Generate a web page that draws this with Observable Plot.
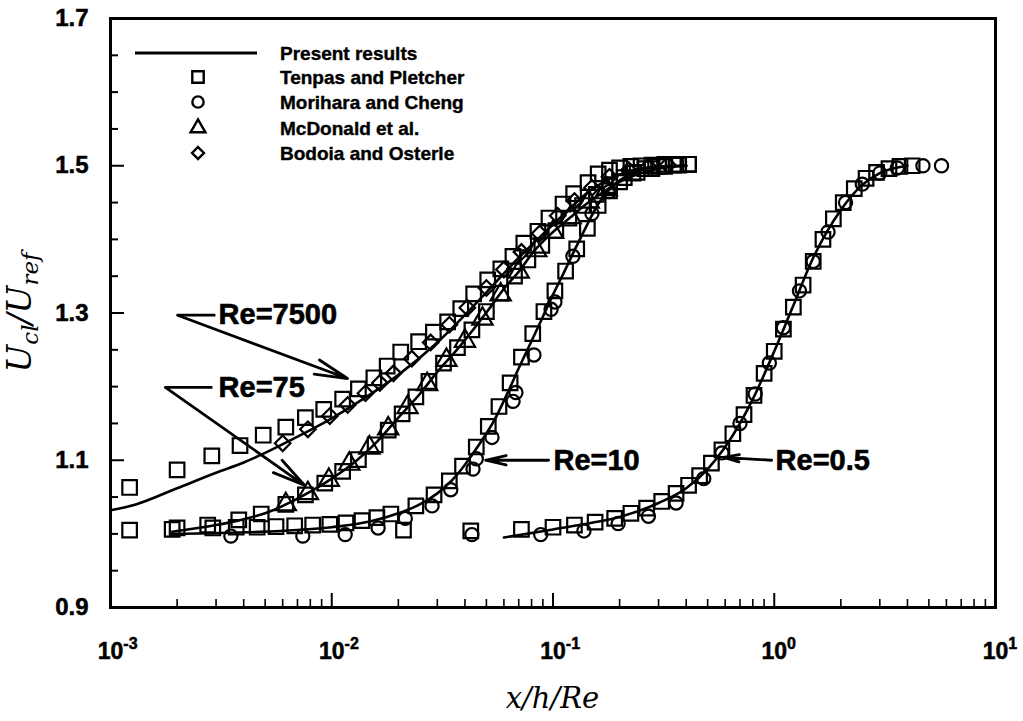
<!DOCTYPE html>
<html>
<head>
<meta charset="utf-8">
<script src="https://cdn.jsdelivr.net/npm/d3@7"></script>
<script src="https://cdn.jsdelivr.net/npm/@observablehq/plot@0.6"></script>
<style>
  body { margin: 0; background: #fff; }
  #chart { width: 1023px; height: 721px; }
</style>
</head>
<body>
<div id="chart"></div>
<script>
// ---------- axis ticks ----------
const xTickValues = [0.001, 0.01, 0.1, 1, 10];
const xTickExponents = ["-3", "-2", "-1", "0", "1"];
const xMinorTicks = [0.002,0.003,0.004,0.005,0.006,0.007,0.008,0.009,
                     0.02,0.03,0.04,0.05,0.06,0.07,0.08,0.09,
                     0.2,0.3,0.4,0.5,0.6,0.7,0.8,0.9,
                     2,3,4,5,6,7,8,9];
const yTickValues = [0.9, 1.1, 1.3, 1.5, 1.7];
const yMajorInner = [1.1, 1.3, 1.5];
const yMinorTicks = [0.95,1.0,1.05,1.15,1.2,1.25,1.35,1.4,1.45,1.55,1.6,1.65];

// ---------- present results (lines) ----------
const curve7500X = [0.001,0.0013,0.002,0.003,0.004,0.005,0.007,0.01,0.014,0.02,0.03,0.05,0.07,0.1,0.15,0.2,0.3,0.4];
const curve7500Y = [1.032,1.040,1.062,1.083,1.097,1.110,1.132,1.157,1.184,1.216,1.260,1.328,1.375,1.420,1.468,1.488,1.499,1.500];
const curve75X = [0.0019,0.003,0.004,0.005,0.007,0.01,0.013,0.016,0.02,0.025,0.03,0.037,0.044,0.051,0.06,0.07,0.082,0.1,0.12,0.14,0.17,0.2,0.25,0.3,0.4];
const curve75Y = [1.003,1.012,1.020,1.028,1.048,1.075,1.100,1.125,1.158,1.190,1.220,1.251,1.279,1.304,1.333,1.356,1.384,1.410,1.430,1.447,1.465,1.478,1.490,1.496,1.500];
const curve10X = [0.0019,0.005,0.01,0.015,0.02,0.025,0.03,0.035,0.04,0.047,0.054,0.062,0.07,0.08,0.09,0.1,0.11,0.125,0.14,0.16,0.18,0.2,0.25,0.3,0.4];
const curve10Y = [1.000,1.003,1.009,1.017,1.028,1.040,1.055,1.073,1.094,1.124,1.153,1.190,1.225,1.262,1.295,1.325,1.350,1.385,1.415,1.448,1.468,1.480,1.494,1.499,1.500];
const curve05X = [0.06,0.1,0.15,0.2,0.3,0.4,0.5,0.6,0.7,0.8,1.0,1.2,1.5,2.0,2.5,3.0,4.0];
const curve05Y = [0.995,1.006,1.015,1.023,1.042,1.062,1.088,1.118,1.150,1.183,1.248,1.305,1.375,1.440,1.474,1.490,1.500];

// ---------- Tenpas and Pletcher (squares) ----------
const sq7500X = [0.00122,0.002,0.00287,0.00385,0.0049,0.0062,0.0076,0.0092,0.0112,0.0132,0.0155,0.0178,0.0205,0.0247,0.0288,0.0334,0.0383,0.0438,0.0507,0.0581,0.0659,0.0738,0.0855,0.0959,0.111,0.124,0.144,0.16,0.18,0.2,0.225,0.25,0.28,0.32,0.36,0.41];
const sq7500Y = [1.063,1.087,1.106,1.120,1.134,1.145,1.158,1.169,1.183,1.197,1.212,1.228,1.247,1.261,1.274,1.288,1.306,1.326,1.345,1.360,1.377,1.395,1.411,1.429,1.448,1.462,1.477,1.489,1.494,1.497,1.499,1.500,1.501,1.502,1.502,1.502];
const sq75X = [0.0019,0.00275,0.0038,0.0048,0.0062,0.0076,0.0093,0.0112,0.0132,0.0157,0.018,0.0208,0.024,0.0275,0.032,0.037,0.043,0.05,0.058,0.067,0.077,0.089,0.103,0.118,0.136,0.157,0.18,0.21,0.24,0.28,0.32,0.37];
const sq75Y = [1.006,1.012,1.019,1.027,1.040,1.053,1.069,1.085,1.101,1.121,1.141,1.163,1.186,1.207,1.232,1.253,1.277,1.302,1.327,1.350,1.372,1.392,1.412,1.429,1.446,1.461,1.473,1.484,1.491,1.496,1.499,1.501];
const sq10X = [0.002,0.0029,0.0037,0.0046,0.0056,0.0068,0.0082,0.0098,0.0116,0.0137,0.016,0.0185,0.024,0.029,0.034,0.039,0.045,0.051,0.057,0.064,0.072,0.081,0.091,0.102,0.114,0.128,0.143,0.16,0.18,0.2,0.23,0.26,0.3,0.35,0.41];
const sq10Y = [1.008,1.008,1.009,1.009,1.010,1.011,1.012,1.013,1.015,1.018,1.022,1.027,1.038,1.053,1.072,1.092,1.118,1.146,1.173,1.205,1.240,1.272,1.302,1.330,1.357,1.387,1.415,1.446,1.466,1.478,1.490,1.496,1.499,1.501,1.502];
const sq05X = [0.00122,0.0211,0.0425,0.072,0.1,0.125,0.155,0.19,0.225,0.265,0.31,0.36,0.41,0.46,0.52,0.58,0.65,0.73,0.81,0.9,1.0,1.1,1.22,1.35,1.5,1.66,1.85,2.05,2.3,2.6,2.9,3.3,3.7,4.2];
const sq05Y = [1.005,1.005,1.004,1.006,1.009,1.012,1.016,1.021,1.028,1.035,1.044,1.055,1.066,1.079,1.096,1.114,1.136,1.162,1.188,1.218,1.248,1.278,1.308,1.338,1.370,1.400,1.428,1.450,1.469,1.483,1.491,1.496,1.499,1.500];

// ---------- Morihara and Cheng (circles) ----------
const circ10X = [0.0035,0.0074,0.0115,0.0162,0.0215,0.0284,0.0345,0.0435,0.045,0.053,0.066,0.068,0.082,0.098,0.102,0.123,0.15,0.18];
const circ10Y = [0.997,0.997,0.999,1.008,1.021,1.038,1.060,1.088,1.102,1.131,1.180,1.192,1.243,1.305,1.315,1.377,1.435,1.465];
const circ05X = [0.043,0.088,0.138,0.197,0.27,0.36,0.48,0.58,0.7,0.82,0.95,1.1,1.3,1.5,1.75,2.1,2.5,3.0,3.6,4.7,5.7];
const circ05Y = [0.999,0.999,1.004,1.014,1.024,1.042,1.075,1.110,1.150,1.190,1.232,1.280,1.330,1.370,1.410,1.450,1.475,1.490,1.497,1.500,1.500];

// ---------- McDonald et al. (triangles) ----------
const triX = [0.0062,0.0078,0.0097,0.012,0.0148,0.018,0.022,0.027,0.033,0.04,0.048,0.058,0.07,0.084,0.1,0.12,0.145,0.175];
const triY = [1.040,1.055,1.073,1.095,1.117,1.143,1.172,1.203,1.236,1.262,1.292,1.325,1.356,1.385,1.410,1.430,1.451,1.468];

// ---------- Bodoia and Osterle (diamonds) ----------
const diaX = [0.006,0.0078,0.0098,0.0118,0.0142,0.0165,0.019,0.023,0.028,0.034,0.041,0.05,0.06,0.072,0.087,0.105,0.125,0.15,0.18,0.22,0.27,0.33];
const diaY = [1.123,1.142,1.160,1.175,1.191,1.205,1.218,1.238,1.260,1.284,1.307,1.334,1.359,1.383,1.408,1.432,1.452,1.470,1.485,1.494,1.499,1.501];

// ---------- annotations ----------
const annoLabels = ["Re=7500", "Re=75", "Re=10", "Re=0.5"];
const annoX = [0.00308, 0.00308, 0.1005, 1.014];
const annoY = [1.297, 1.199, 1.100, 1.100];
const leaderX1 = [0.00201, 0.00177];
const leaderX2 = [0.00298, 0.00289];
const leaderY = [1.297, 1.199];
const arrowX1 = [0.00201, 0.00177, 0.0955, 0.973];
const arrowY1 = [1.297, 1.199, 1.100, 1.100];
const arrowX2 = [0.01178, 0.00753, 0.0496, 0.590];
const arrowY2 = [1.211, 1.066, 1.100, 1.104];

// ---------- legend ----------
const legendLabels = ["Present results", "Tenpas and Pletcher", "Morihara and Cheng", "McDonald et al.", "Bodoia and Osterle"];
const legendSymbols = ["line", "square", "circle", "triangle", "diamond"];

// ---------- build tables ----------
const rows = (xs, ys, key) => xs.map((x, i) => ({x, y: ys[i], key}));
const curves = [
  ...rows(curve7500X, curve7500Y, "7500"), ...rows(curve75X, curve75Y, "75"),
  ...rows(curve10X, curve10Y, "10"), ...rows(curve05X, curve05Y, "0.5")
];
const squares = [
  ...rows(sq7500X, sq7500Y, "7500"), ...rows(sq75X, sq75Y, "75"),
  ...rows(sq10X, sq10Y, "10"), ...rows(sq05X, sq05Y, "0.5")
];
const circles = [...rows(circ10X, circ10Y, "10"), ...rows(circ05X, circ05Y, "0.5")];
const triangles = rows(triX, triY, "75");
const diamonds = rows(diaX, diaY, "7500");
const annos = annoLabels.map((t, i) => ({t, x: annoX[i], y: annoY[i]}));
const leaders = leaderX1.map((x1, i) => ({x1, x2: leaderX2[i], y: leaderY[i]}));
const arrows = arrowX1.map((x1, i) => ({x1, y1: arrowY1[i], x2: arrowX2[i], y2: arrowY2[i]}));

const W = 1023, H = 721, mL = 110, mR = 28, mT = 18, mB = 114;
const frameW = W - mL - mR, frameH = H - mT - mB;
const sans = "'Liberation Sans', Arial, Helvetica, sans-serif";
const serif = "'DejaVu Serif', 'Liberation Serif', serif";

const chart = Plot.plot({
  width: W, height: H,
  marginLeft: mL, marginRight: mR, marginTop: mT, marginBottom: mB,
  x: {type: "log", domain: [0.001, 10]},
  y: {domain: [0.9, 1.7]},
  style: {fontFamily: sans, fontWeight: "bold", background: "white", color: "black", overflow: "visible"},
  marks: [
    Plot.line(curves, {x: "x", y: "y", z: "key", curve: "monotone-x", stroke: "black", strokeWidth: 2.6}),
    Plot.dot(squares, {x: "x", y: "y", symbol: "square", r: 8.2, stroke: "black", strokeWidth: 2.2, fill: "none"}),
    Plot.dot(circles, {x: "x", y: "y", symbol: "circle", r: 6.6, stroke: "black", strokeWidth: 2.2, fill: "none"}),
    Plot.dot(triangles, {x: "x", y: "y", symbol: "triangle", r: 7.5, stroke: "black", strokeWidth: 2.2, fill: "none"}),
    Plot.dot(diamonds, {x: "x", y: "y", symbol: "diamond2", r: 7, stroke: "black", strokeWidth: 2.2, fill: "none"}),
    Plot.link(leaders, {x1: "x1", x2: "x2", y1: "y", y2: "y", stroke: "black", strokeWidth: 2.8}),
    Plot.arrow(arrows, {x1: "x1", y1: "y1", x2: "x2", y2: "y2", stroke: "black", strokeWidth: 2.8, headLength: 18, headAngle: 26}),
    Plot.text(annos, {x: "x", y: "y", text: "t", textAnchor: "start", fontSize: 29, fontWeight: "bold", fill: "black", stroke: "black", strokeWidth: 0.6}),
    Plot.tickY(yMinorTicks, {y: d => d, insetRight: frameW - 8, stroke: "black", strokeWidth: 2}),
    Plot.tickY(yMajorInner, {y: d => d, insetRight: frameW - 14, stroke: "black", strokeWidth: 2}),
    Plot.tickX(xMinorTicks, {x: d => d, insetTop: frameH - 8, stroke: "black", strokeWidth: 1.6}),
    Plot.tickX(xTickValues, {x: d => d, insetTop: frameH - 14, stroke: "black", strokeWidth: 2}),
    Plot.axisY(yTickValues, {tickSize: 0, tickPadding: 22, fontSize: 24, fontWeight: "bold", tickFormat: d3.format(".1f"), label: null}),
    Plot.axisX(xTickValues, {tickSize: 0, tickPadding: 35, fontSize: 23, fontWeight: "bold", tickFormat: () => "10", label: null}),
    Plot.frame({stroke: "black", strokeWidth: 3})
  ]
});

document.getElementById("chart").appendChild(chart);
const svg = d3.select(chart);

// heavier tick labels
svg.selectAll('g[aria-label="y-axis tick label"] text, g[aria-label="x-axis tick label"] text')
  .attr("stroke", "black").attr("stroke-width", 0.5);

// superscript exponents on x tick labels, keeping "10" centred on its tick
svg.selectAll('g[aria-label="x-axis tick label"] text').each(function(d, i) {
  const t = d3.select(this);
  t.append("tspan").attr("dy", "-0.6em").attr("font-size", 16).text(xTickExponents[i]);
  const full = this.getComputedTextLength();
  const base = this.getSubStringLength(0, 2);
  t.attr("dx", (full - base) / 2);
});

// axis titles
const yt = svg.append("text")
  .attr("transform", `translate(31,${mT + frameH / 2}) rotate(-90)`)
  .attr("text-anchor", "middle")
  .attr("font-family", serif).attr("font-style", "italic").attr("font-weight", "normal")
  .attr("font-size", 33).attr("fill", "black");
yt.append("tspan").text("U");
yt.append("tspan").attr("dy", 7).attr("font-size", 23).text("cl");
yt.append("tspan").attr("dy", -7).text("/U");
yt.append("tspan").attr("dy", 7).attr("font-size", 23).text("ref");

svg.append("text")
  .attr("x", mL + frameW / 2).attr("y", 708)
  .attr("text-anchor", "middle")
  .attr("font-family", serif).attr("font-style", "italic").attr("font-weight", "normal")
  .attr("font-size", 29).attr("fill", "black")
  .text("x/h/Re");

// legend inside the frame
const lg = svg.append("g").attr("class", "legend");
const rowY = [53, 77, 102, 128, 153];
const symX = 198, textX = 280;
const symbolTypes = {square: d3.symbolSquare, circle: d3.symbolCircle, triangle: d3.symbolTriangle, diamond: d3.symbolDiamond2};
const symbolSizes = {square: 130, circle: 100, triangle: 95, diamond: 90};
legendSymbols.forEach((s, i) => {
  if (s === "line") {
    lg.append("line").attr("x1", 135).attr("x2", 257).attr("y1", rowY[i]).attr("y2", rowY[i])
      .attr("stroke", "black").attr("stroke-width", 3);
  } else {
    lg.append("path").attr("transform", `translate(${symX},${rowY[i]})`)
      .attr("d", d3.symbol(symbolTypes[s], symbolSizes[s])())
      .attr("fill", "none").attr("stroke", "black").attr("stroke-width", 2.4);
  }
  lg.append("text").attr("x", textX).attr("y", rowY[i]).attr("dy", "0.35em")
    .attr("text-anchor", "start")
    .attr("font-size", 19).attr("font-weight", "bold").attr("font-family", sans)
    .attr("fill", "black").attr("stroke", "black").attr("stroke-width", 0.4)
    .text(legendLabels[i]);
});
</script>
</body>
</html>
